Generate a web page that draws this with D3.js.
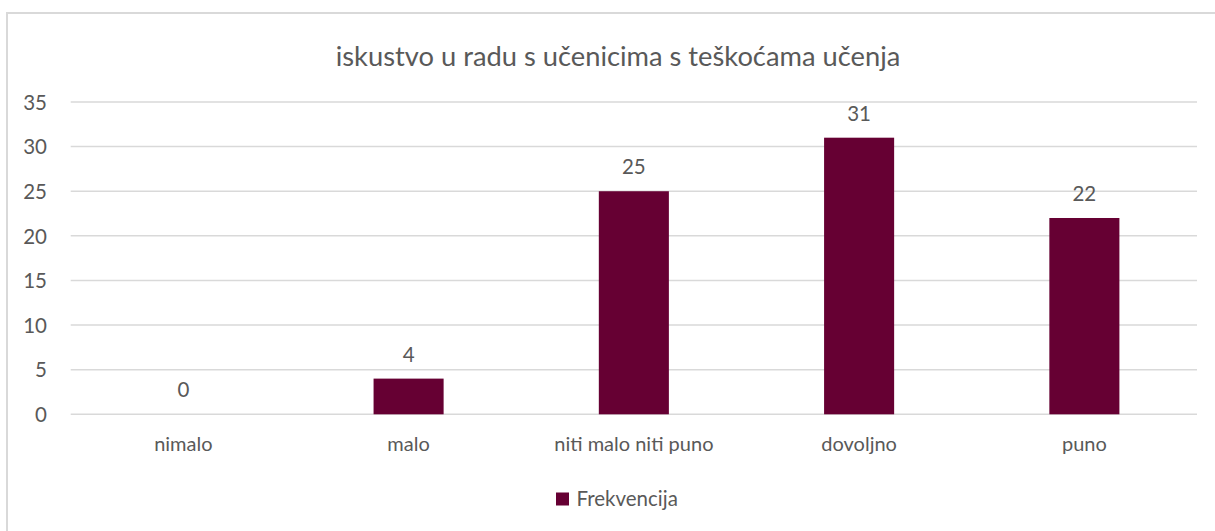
<!DOCTYPE html>
<html>
<body>
    <style>
        body, html {
            margin: 0;
            padding: 0;
            background: #fff;
        }
        svg text {
            font-family: Lato, "Open Sans", sans-serif;
            fill: #595959;
        }
    </style>

    <svg width="1215" height="531"></svg>

    <script src="https://d3js.org/d3.v7.min.js"></script>

    <script>
        var categories = ["nimalo", "malo", "niti malo niti puno", "dovoljno", "puno"];
        var values = [0, 4, 25, 31, 22];
        var yTicks = [0, 5, 10, 15, 20, 25, 30, 35];
        var title = "iskustvo u radu s učenicima s teškoćama učenja";
        var seriesName = "Frekvencija";

        var width = 1215;
        var height = 531;
        var barColor = "#660033";
        var gridColor = "#d9d9d9";

        var svg = d3.select("svg");

        // chart area border (runs off the right and bottom edges)
        svg.append("rect")
            .attr("x", 7).attr("y", 13)
            .attr("width", width).attr("height", height)
            .attr("fill", "none")
            .attr("stroke", gridColor)
            .attr("stroke-width", 2);

        var x = d3.scaleBand()
            .domain(categories)
            .range([70.7, 1197])
            .paddingInner(0.689)
            .paddingOuter(0.3445);

        var y = d3.scaleLinear()
            .domain([0, 35])
            .range([414.3, 102]);

        // GRID
        svg.append("g")
            .selectAll("line")
            .data(yTicks)
            .join("line")
            .attr("x1", 70.7).attr("x2", 1197)
            .attr("y1", function(d) { return y(d); })
            .attr("y2", function(d) { return y(d); })
            .attr("stroke", gridColor)
            .attr("stroke-width", 1.5);

        // Y AXIS LABELS
        var yAxis = d3.axisLeft(y).tickValues(yTicks).tickSize(0).tickPadding(0);
        var gy = svg.append("g").attr("transform", "translate(47,0)").call(yAxis);
        gy.select(".domain").remove();
        gy.selectAll("text")
            .attr("font-size", 20.5)
            .attr("dy", "0.35em")
            .style("font-family", "Lato, sans-serif")
            .attr("fill", "#595959");

        // X AXIS LABELS
        var xAxis = d3.axisBottom(x).tickSize(0).tickPadding(0);
        var gx = svg.append("g").attr("transform", "translate(0,451)").call(xAxis);
        gx.select(".domain").remove();
        gx.selectAll("text")
            .attr("font-size", 20)
            .attr("dy", 0)
            .attr("y", 0)
            .style("font-family", "Lato, sans-serif")
            .attr("fill", "#595959");

        // BARS
        svg.append("g")
            .selectAll("rect")
            .data(values)
            .join("rect")
            .attr("x", function(d, i) { return x(categories[i]); })
            .attr("width", x.bandwidth())
            .attr("y", function(d) { return y(d); })
            .attr("height", function(d) { return y(0) - y(d); })
            .attr("fill", barColor);

        // VALUE LABELS
        svg.append("g")
            .selectAll("text")
            .data(values)
            .join("text")
            .attr("x", function(d, i) { return x(categories[i]) + x.bandwidth() / 2; })
            .attr("y", function(d) { return y(d) - 17; })
            .attr("text-anchor", "middle")
            .attr("font-size", 20.5)
            .text(function(d) { return d; });

        // TITLE
        svg.append("text")
            .attr("x", 618).attr("y", 66)
            .attr("text-anchor", "middle")
            .attr("font-size", 27.3)
            .text(title);

        // LEGEND
        svg.append("rect")
            .attr("x", 556).attr("y", 492.5)
            .attr("width", 13).attr("height", 13)
            .attr("fill", barColor);
        svg.append("text")
            .attr("x", 576.5).attr("y", 505.7)
            .attr("font-size", 20.5)
            .text(seriesName);
    </script>
</body>
</html>
